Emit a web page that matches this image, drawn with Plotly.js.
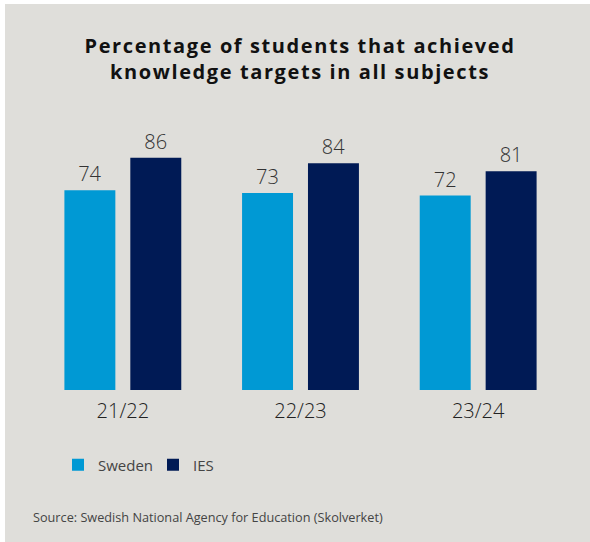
<!DOCTYPE html>
<html>
<head>
<meta charset="utf-8">
<script src="https://cdn.plot.ly/plotly-3.0.1.min.js"></script>
<style>
  html, body { margin: 0; padding: 0; background: #ffffff; width: 590px; height: 542px; overflow: hidden; }
  #chart { position: absolute; left: 5px; top: 4px; width: 585px; height: 538px; }
  #chart .gtitle { letter-spacing: 1.6px; }
</style>
</head>
<body>
<div id="chart"></div>
<script>
const categories = ["21/22", "22/23", "23/24"];
const swedenValues = [74, 73, 72];
const iesValues = [86, 84, 81];
const seriesNames = ["Sweden", "IES"];
const seriesColors = ["#0099d4", "#001a55"];
const titleText = "Percentage of students that achieved<br>knowledge targets in all subjects";
const sourceText = "Source: Swedish National Agency for Education (Skolverket)";

const FONT = "Open Sans, Noto Sans, sans-serif";

const traces = [swedenValues, iesValues].map((vals, i) => ({
  type: "bar",
  name: seriesNames[i],
  x: categories,
  y: vals,
  marker: { color: seriesColors[i] },
  text: vals.map(String),
  textposition: "outside",
  textfont: { family: FONT, size: 20, color: "#333333", weight: 300 },
  cliponaxis: false,
  hoverinfo: "none"
}));

const layout = {
  width: 585,
  height: 538,
  paper_bgcolor: "#dfdeda",
  plot_bgcolor: "#dfdeda",
  margin: { l: 28.5, r: 22.5, t: 116, b: 152 },
  barmode: "group",
  bargap: 0.258,
  bargroupgap: 0.227,
  title: {
    text: titleText,
    font: { family: FONT, size: 20, color: "#111111", weight: 700 },
    x: 295 / 585, xref: "container", xanchor: "center",
    y: 1 - 49 / 538, yref: "container", yanchor: "top"
  },
  xaxis: {
    type: "category",
    range: [-0.5, 2.5],
    showgrid: false, zeroline: false, showline: false,
    ticks: "",
    ticklabelstandoff: 7,
    tickfont: { family: FONT, size: 20, color: "#222222", weight: 300 },
    fixedrange: true
  },
  yaxis: {
    range: [0, 100],
    visible: false,
    showgrid: false, zeroline: false,
    fixedrange: true
  },
  showlegend: true,
  legend: {
    orientation: "h",
    xref: "container", yref: "container",
    x: 53 / 585, xanchor: "left",
    y: 1 - 461 / 538, yanchor: "middle",
    font: { family: FONT, size: 15, color: "#444444" },
    bgcolor: "rgba(0,0,0,0)",
    entrywidth: 50,
    entrywidthmode: "pixels",
    traceorder: "normal"
  },
  annotations: [{
    text: sourceText,
    xref: "paper", yref: "paper",
    x: (25 - 28.5) / 534, xanchor: "left",
    y: (386 - 513) / 270, yanchor: "middle",
    showarrow: false,
    font: { family: FONT, size: 12.7, color: "#444444" }
  }]
};

Plotly.newPlot("chart", traces, layout, { displayModeBar: false, staticPlot: true });
</script>
</body>
</html>
